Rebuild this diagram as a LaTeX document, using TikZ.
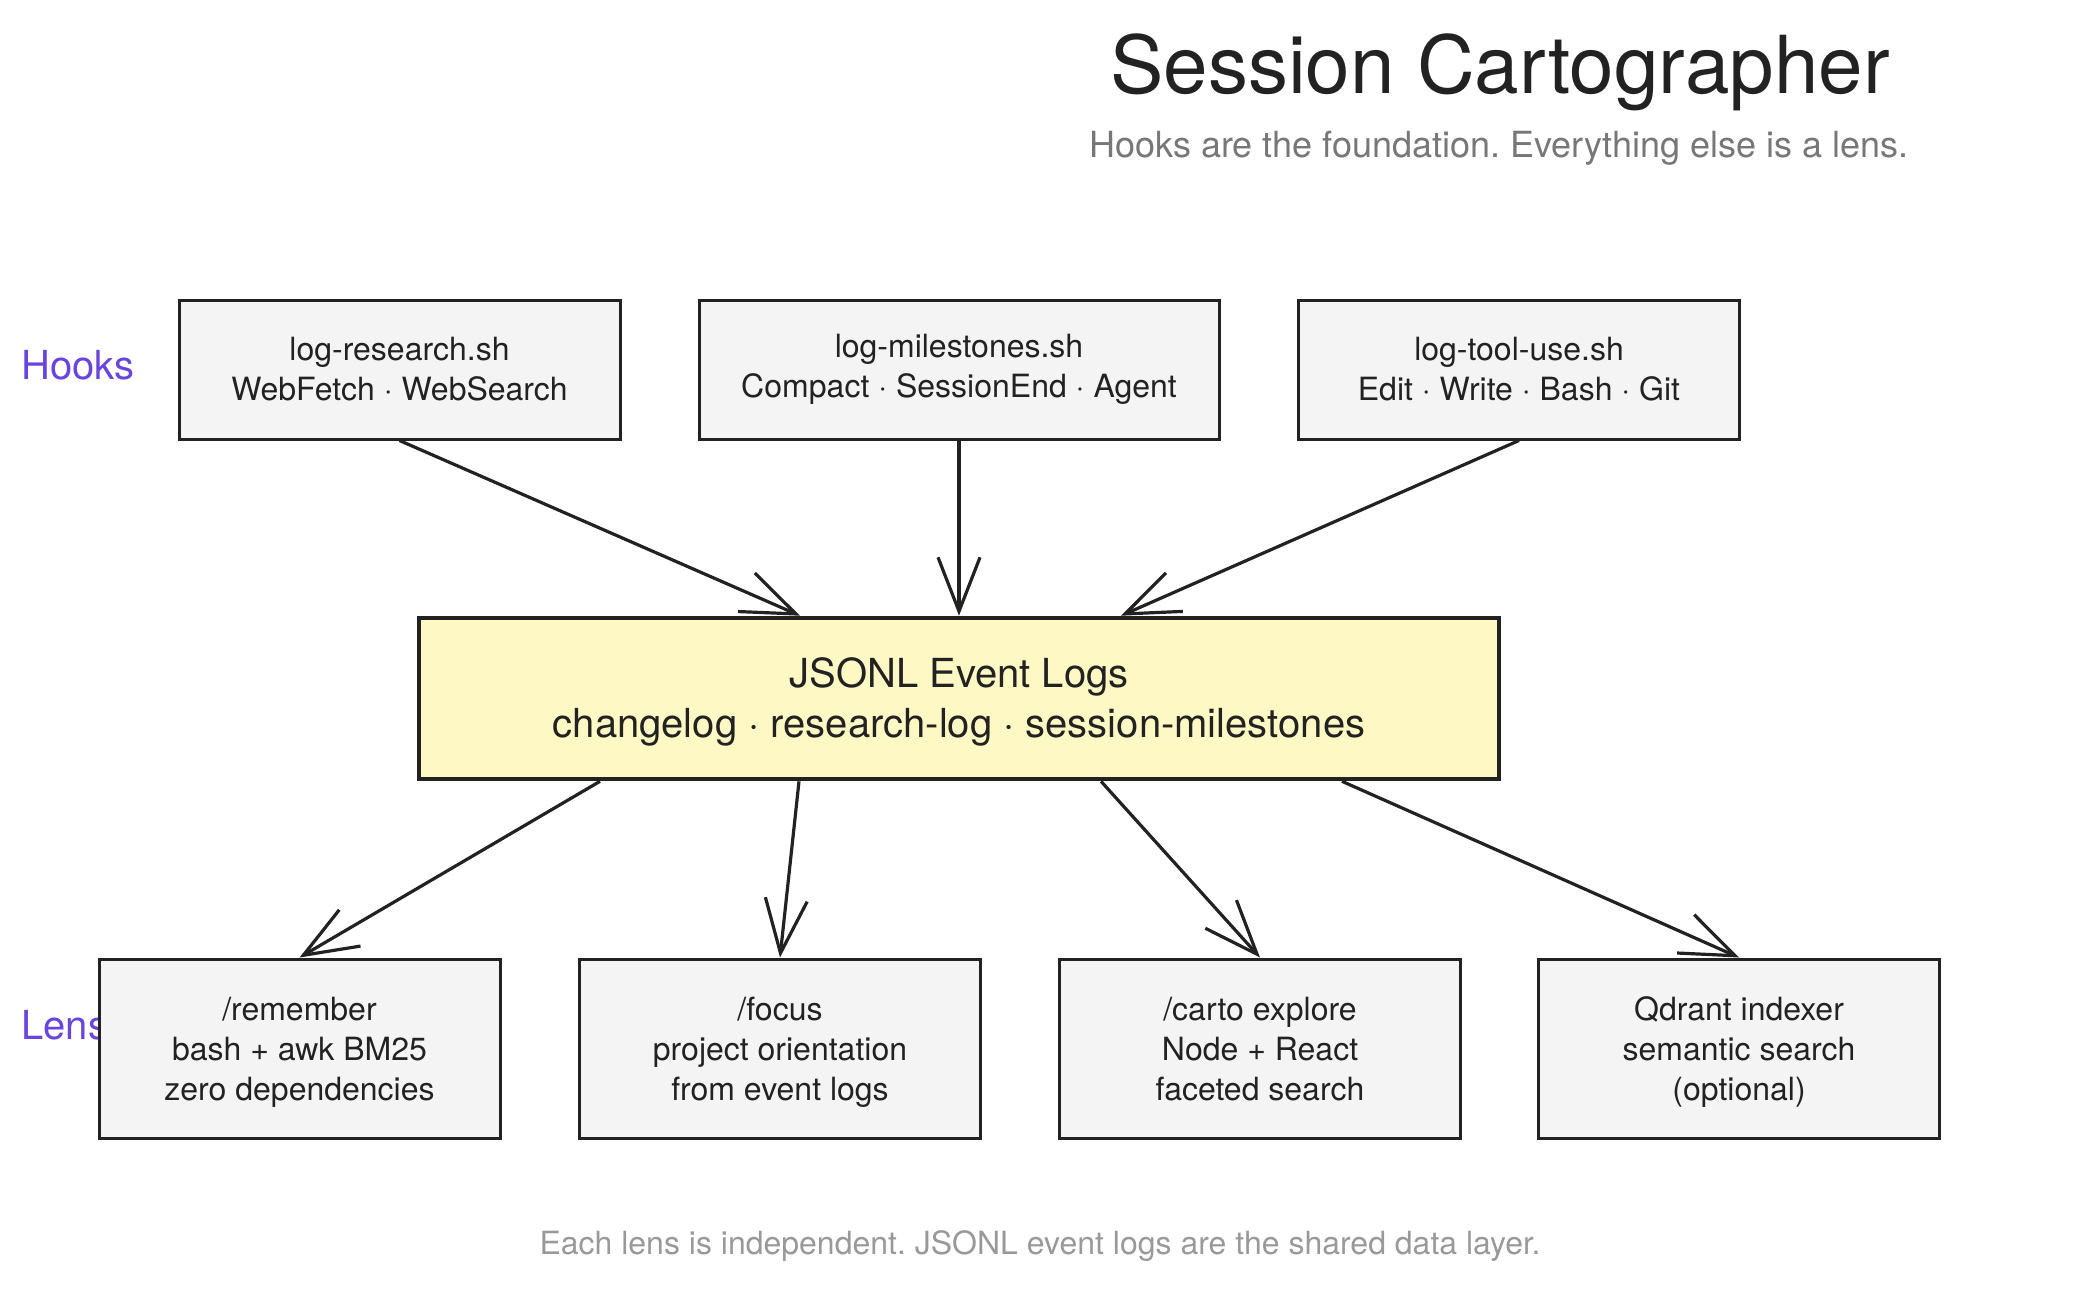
\documentclass[tikz,border=0pt]{standalone}
\usepackage{fontspec}
\setmainfont{TeX Gyre Heros}
\usepackage{xcolor}
\usepackage{tikz}
\usetikzlibrary{arrows.meta,positioning}
\frenchspacing

\definecolor{inkdark}{HTML}{222222}
\definecolor{hookfill}{HTML}{F4F4F4}
\definecolor{logfill}{HTML}{FEF8C4}
\definecolor{rowlabel}{HTML}{6A45DD}
\definecolor{subgray}{HTML}{777777}
\definecolor{footgray}{HTML}{999999}

% struts so every box centres its lines the same way
\newcommand{\lenstop}{\rule{0pt}{16pt}}
\newcommand{\lensbot}{\rule[-4pt]{0pt}{4pt}}
\newcommand{\logtop}{\rule{0pt}{18.5pt}}

\begin{document}
\begin{tikzpicture}[x=0.5pt,y=-0.5pt,
  hookbox/.style={draw=inkdark, fill=hookfill, line width=1.5pt, text=inkdark, align=center,
    minimum width=220.5pt, minimum height=69.5pt, inner sep=0pt,
    font=\fontsize{16}{20}\selectfont},
  lensbox/.style={hookbox, minimum width=200.5pt, minimum height=89.5pt},
  logbox/.style={draw=inkdark, fill=logfill, line width=2.3pt, text=inkdark, align=center,
    minimum width=540pt, minimum height=80.5pt, inner sep=0pt,
    font=\fontsize{20}{25}\selectfont},
  rowtag/.style={text=rowlabel, anchor=west, inner sep=0pt, font=\fontsize{20}{24}\selectfont},
  flow/.style={draw=inkdark, line width=1.6pt, -{Straight Barb[length=27pt,width=21pt]}}]
\useasboundingbox (0,0) rectangle (2080,1290);
% Heading
\node[text=inkdark, anchor=base, font=\fontsize{40}{48}\selectfont] (title) at (1500,93) {Session Cartographer};
\node[text=subgray, anchor=base, font=\fontsize{18}{22}\selectfont] (subtitle) at (1499,157) {Hooks are the foundation. Everything else is a lens.};
% Row labels (drawn first, boxes sit on top)
\node[rowtag] (hookstag) at (21,365) {Hooks};
\node[rowtag] (lenstag) at (21,1025) {Lens};
% Hooks
\node[hookbox] (h1) at (399.5,369.5) {log-research.sh\\WebFetch · WebSearch};
\node[hookbox, minimum width=260pt] (h2) at (959,369.5) {log-milestones.sh\\Compact · SessionEnd · Agent};
\node[hookbox] (h3) at (1519,369.5) {log-tool-use.sh\\Edit · Write · Bash · Git};
% Shared data layer
\node[logbox] (logs) at (959,698.5) {\logtop JSONL Event Logs\\changelog · research-log · session-milestones};
% Lenses
\node[lensbox] (l1) at (299.5,1048.5) {\lenstop/remember\\bash + awk BM25\\zero dependencies\lensbot};
\node[lensbox] (l2) at (780,1048.5) {\lenstop/focus\\project orientation\\from event logs\lensbot};
\node[lensbox] (l3) at (1260,1048.5) {\lenstop/carto explore\\Node + React\\faceted search\lensbot};
\node[lensbox] (l4) at (1739,1048.5) {\lenstop Qdrant indexer\\semantic search\\(optional)\lensbot};
% Hooks feed the logs
\draw[flow] (h1.south) -- ([xshift=-79.5pt]logs.north);
\draw[flow] (h2.south) -- (logs.north);
\draw[flow] (h3.south) -- ([xshift=81pt]logs.north);
% Logs feed the lenses
\draw[flow] ([xshift=-179.5pt]logs.south) -- (l1.north);
\draw[flow] ([xshift=-80pt]logs.south) -- (l2.north);
\draw[flow] ([xshift=71pt]logs.south) -- (l3.north);
\draw[flow] ([xshift=191.5pt]logs.south) -- (l4.north);
% Footer
\node[text=footgray, anchor=base, font=\fontsize{16}{20}\selectfont] (footer) at (1040,1254) {Each lens is independent. JSONL event logs are the shared data layer.};
\end{tikzpicture}
\end{document}
